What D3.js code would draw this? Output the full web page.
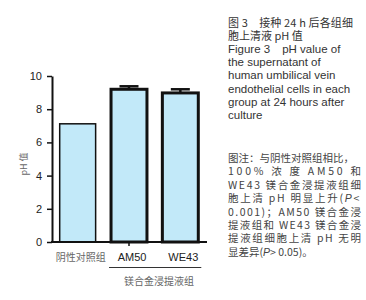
<!DOCTYPE html>
<html>
<head>
<meta charset="utf-8">
<script src="https://cdn.jsdelivr.net/npm/d3@7"></script>
<style>
  body { margin: 0; background: #fff; }
  svg { display: block; }
  .cn { font-family: "Noto Sans CJK SC", sans-serif; }
  .en { font-family: "Liberation Sans", Arial, sans-serif; }
</style>
</head>
<body>
<svg id="chart" width="366" height="300"></svg>
<script>
// chart values
const groups = ['阴性对照组', 'AM50', 'WE43'];
const phMean = [7.12, 9.2, 8.98];
const phErr = [0.03, 0.18, 0.22];
const yTicks = [0, 2, 4, 6, 8, 10];

// caption lines
const titleLines = [
  '图 3　接种 24 h 后各组细',
  '胞上清液 pH 值',
  'Figure 3　pH value of',
  'the supernatant of',
  'human umbilical vein',
  'endothelial cells in each',
  'group at 24 hours after',
  'culture',
];
// note lines, split where P is italic; true = justified
const noteLines = [
  [['图注：与阴性对照组相比，'], false],
  [['100% 浓 度 AM50 和'], true],
  [['WE43 镁合金浸提液组细'], true],
  [['胞上清 pH 明显上升(', 'P', ' <'], true],
  [['0.001)；AM50 镁合金浸'], true],
  [['提液组和 WE43 镁合金浸'], true],
  [['提液组细胞上清 pH 无明'], true],
  [['显差异(', 'P', ' > 0.05)。'], false],
];

const svg = d3.select('#chart');

const x = d3.scaleBand()
  .domain(groups)
  .range([52, 206])
  .paddingInner(0.3)
  .paddingOuter(0.15);

const y = d3.scaleLinear()
  .domain([0, 10])
  .range([242, 76]);

const barStroke = [1.5, 3, 3];

// bars
svg.append('g').selectAll('rect')
  .data(groups)
  .join('rect')
  .attr('x', d => x(d))
  .attr('y', (d, i) => y(phMean[i]))
  .attr('width', x.bandwidth())
  .attr('height', (d, i) => y(0) - y(phMean[i]))
  .attr('fill', '#c2e9f9')
  .attr('stroke', '#111')
  .attr('stroke-width', (d, i) => barStroke[i]);

// error bars
const eb = svg.append('g').attr('stroke', '#111').attr('stroke-width', 2.5);
groups.forEach((g, i) => {
  if (i === 0) return;
  const cx = x(g) + x.bandwidth() / 2;
  eb.append('line')
    .attr('x1', cx).attr('x2', cx)
    .attr('y1', y(phMean[i])).attr('y2', y(phMean[i] + phErr[i]));
  eb.append('line')
    .attr('x1', cx - 9.5).attr('x2', cx + 9.5)
    .attr('y1', y(phMean[i] + phErr[i])).attr('y2', y(phMean[i] + phErr[i]));
});

// y axis
const yAxis = svg.append('g')
  .attr('transform', 'translate(52,0)')
  .call(d3.axisLeft(y).tickValues(yTicks).tickSize(5).tickPadding(5).tickSizeOuter(0));
yAxis.select('.domain').attr('stroke', '#111').attr('stroke-width', 2);
yAxis.selectAll('.tick line').attr('stroke', '#111').attr('stroke-width', 1.5);
yAxis.selectAll('.tick text')
  .attr('class', 'en')
  .attr('font-size', 11)
  .attr('fill', '#222');

// x axis
svg.append('line')
  .attr('x1', 51).attr('x2', 207)
  .attr('y1', y(0)).attr('y2', y(0))
  .attr('stroke', '#111').attr('stroke-width', 2);

const amX = x('AM50') + x.bandwidth() / 2;
svg.append('line')
  .attr('x1', amX).attr('x2', amX)
  .attr('y1', y(0)).attr('y2', y(0) + 4)
  .attr('stroke', '#111').attr('stroke-width', 1.5);

svg.append('g').selectAll('text')
  .data(groups)
  .join('text')
  .attr('class', (d, i) => i === 0 ? 'cn' : 'en')
  .attr('x', d => x(d) + x.bandwidth() / 2 + 3)
  .attr('y', 261)
  .attr('text-anchor', 'middle')
  .attr('font-size', (d, i) => i === 0 ? 10 : 11)
  .attr('fill', (d, i) => i === 0 ? '#666' : '#222')
  .text(d => d);

// bracket for alloy groups
svg.append('line')
  .attr('x1', x('AM50') - 2).attr('x2', x('WE43') + x.bandwidth() + 3)
  .attr('y1', 267.5).attr('y2', 267.5)
  .attr('stroke', '#333').attr('stroke-width', 1);
svg.append('text')
  .attr('class', 'cn')
  .attr('x', 159).attr('y', 285)
  .attr('text-anchor', 'middle')
  .attr('font-size', 10)
  .attr('fill', '#666')
  .text('镁合金浸提液组');

// y label
svg.append('text')
  .attr('class', 'cn')
  .attr('transform', 'translate(27,164) rotate(-90)')
  .attr('text-anchor', 'middle')
  .attr('font-size', 9)
  .attr('fill', '#666')
  .text('pH 值');

// caption
const cap = svg.append('g');
titleLines.forEach((t, i) => {
  const tx = cap.append('text')
    .attr('class', i < 2 ? 'cn' : 'en')
    .attr('x', 228)
    .attr('y', 27 + i * 13.1)
    .attr('font-size', i < 2 ? 11 : 11.5)
    .attr('fill', '#333')
    .text(t);
  if (i === 0) tx.attr('textLength', 125).attr('lengthAdjust', 'spacing');
});

const noteW = 133;
noteLines.forEach(([parts, just], i) => {
  const ly = 162 + i * 13.4;
  const nodes = parts.map((p, k) => cap.append('text')
    .attr('class', 'cn')
    .attr('y', ly)
    .attr('font-size', 10.5)
    .attr('fill', '#444')
    .attr('font-style', k === 1 ? 'italic' : null)
    .style('font-family', k === 1 ? '"Liberation Sans", sans-serif' : null)
    .text(p));
  const widths = nodes.map(n => n.node().getComputedTextLength());
  const natural = d3.sum(widths);
  const chars = d3.sum(parts, p => p.length);
  const ls = just ? (noteW - natural) / (chars - 1) : 0;
  let cx = 228;
  nodes.forEach((n, k) => {
    n.attr('x', cx).attr('letter-spacing', ls);
    cx += widths[k] + parts[k].length * ls;
  });
});
</script>
</body>
</html>
